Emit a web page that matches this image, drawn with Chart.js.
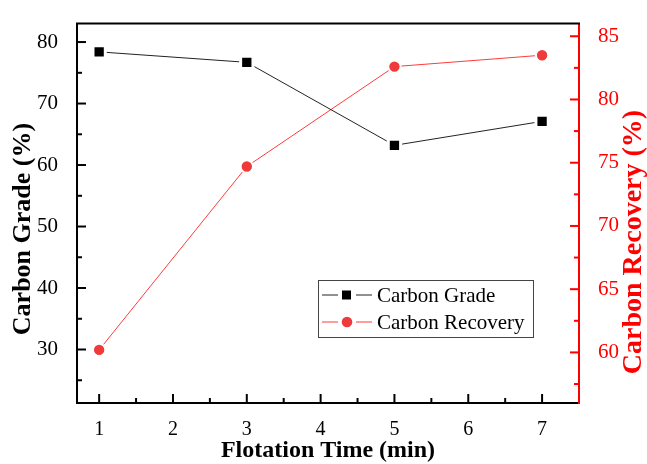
<!DOCTYPE html>
<html>
<head>
<meta charset="utf-8">
<script src="https://cdn.jsdelivr.net/npm/chart.js@4"></script>
<style>
  html, body { margin: 0; padding: 0; background: #ffffff; }
  canvas { display: block; }
</style>
</head>
<body>
<canvas id="c" width="647" height="464" style="width:647px;height:464px"></canvas>
<script>
// ---- data ----
const flotationTimes = [1, 3, 5, 7];
const carbonGrade = [78.4, 76.7, 63.2, 67.1];
const carbonRecovery = [60.2, 74.7, 82.6, 83.5];

// ---- tick values ----
const xMajorTicks = [1, 2, 3, 4, 5, 6, 7];
const xMinorTicks = [1.5, 2.5, 3.5, 4.5, 5.5, 6.5];
const gradeMajorTicks = [30, 40, 50, 60, 70, 80];
const gradeMinorTicks = [25, 35, 45, 55, 65, 75];
const recoveryMajorTicks = [60, 65, 70, 75, 80, 85];
const recoveryMinorTicks = [57.5, 62.5, 67.5, 72.5, 77.5, 82.5];

// ---- texts ----
const xTitle = 'Flotation Time (min)';
const gradeTitle = 'Carbon Grade (%)';
const recoveryTitle = 'Carbon Recovery (%)';
const seriesLabels = ['Carbon Grade', 'Carbon Recovery'];

const SERIF = '"Liberation Serif", "Times New Roman", serif';
const RED = '#ff0000';

const framePlugin = {
  id: 'frame',
  beforeDatasetsDraw(chart) {
    const { ctx, chartArea: a, scales } = chart;
    ctx.save();
    // top frame line
    ctx.strokeStyle = '#000';
    ctx.lineWidth = 2;
    ctx.beginPath();
    ctx.moveTo(a.left - 1, a.top);
    ctx.lineTo(a.right + 1, a.top);
    ctx.stroke();
    // inward ticks
    const drawTicks = (scale, vals, len, color, side) => {
      ctx.strokeStyle = color;
      ctx.lineWidth = 2;
      vals.forEach(v => {
        const p = scale.getPixelForValue(v);
        ctx.beginPath();
        if (side === 'bottom') { ctx.moveTo(p, a.bottom); ctx.lineTo(p, a.bottom - len); }
        else if (side === 'left') { ctx.moveTo(a.left, p); ctx.lineTo(a.left + len, p); }
        else { ctx.moveTo(a.right, p); ctx.lineTo(a.right - len, p); }
        ctx.stroke();
      });
    };
    drawTicks(scales.x, xMajorTicks, 9, '#000', 'bottom');
    drawTicks(scales.x, xMinorTicks, 5, '#000', 'bottom');
    drawTicks(scales.y, gradeMajorTicks, 9, '#000', 'left');
    drawTicks(scales.y, gradeMinorTicks, 5, '#000', 'left');
    drawTicks(scales.y1, recoveryMajorTicks, 9, RED, 'right');
    drawTicks(scales.y1, recoveryMinorTicks, 5, RED, 'right');
    ctx.restore();
  },
  afterDraw(chart) {
    const { ctx, chartArea: a } = chart;
    ctx.save();
    // axis titles
    ctx.textAlign = 'center';
    ctx.textBaseline = 'middle';
    ctx.fillStyle = '#000';
    ctx.font = 'bold 24px ' + SERIF;
    ctx.fillText(xTitle, (a.left + a.right) / 2, 451);
    ctx.save();
    ctx.translate(23, 229);
    ctx.rotate(-Math.PI / 2);
    ctx.font = 'bold 26px ' + SERIF;
    ctx.fillText(gradeTitle, 0, 0);
    ctx.restore();
    ctx.save();
    ctx.translate(634, 242);
    ctx.rotate(-Math.PI / 2);
    ctx.font = 'bold 28px ' + SERIF;
    ctx.fillStyle = RED;
    ctx.fillText(recoveryTitle, 0, 0);
    ctx.restore();

    // legend box
    const bx = 318, by = 280, bw = 215, bh = 57;
    ctx.strokeStyle = '#444';
    ctx.lineWidth = 1;
    ctx.strokeRect(bx + 0.5, by + 0.5, bw, bh);
    const rows = [295, 322];
    chart.data.datasets.forEach((ds, i) => {
      const y = rows[i];
      ctx.strokeStyle = ds.borderColor;
      ctx.lineWidth = 1;
      ctx.beginPath();
      ctx.moveTo(322, y); ctx.lineTo(338, y);
      ctx.moveTo(356, y); ctx.lineTo(372, y);
      ctx.stroke();
      ctx.fillStyle = ds.pointBackgroundColor;
      if (ds.pointStyle === 'rect') {
        ctx.fillRect(342, y - 4.5, 9, 9);
      } else {
        ctx.beginPath();
        ctx.arc(347, y, 5.3, 0, Math.PI * 2);
        ctx.fill();
      }
      ctx.fillStyle = '#000';
      ctx.textAlign = 'left';
      ctx.font = '21px ' + SERIF;
      ctx.fillText(ds.label, 377, y + 1);
    });
    ctx.restore();
  }
};

const toPoints = (xs, ys) => xs.map((x, i) => ({ x: x, y: ys[i] }));

new Chart(document.getElementById('c'), {
  type: 'line',
  data: {
    datasets: [
      {
        label: seriesLabels[0],
        data: toPoints(flotationTimes, carbonGrade),
        yAxisID: 'y',
        borderColor: '#222222',
        borderWidth: 1,
        pointStyle: 'rect',
        pointRadius: 8.7,
        pointBackgroundColor: '#000000',
        pointBorderColor: '#ffffff',
        pointBorderWidth: 3,
        tension: 0
      },
      {
        label: seriesLabels[1],
        data: toPoints(flotationTimes, carbonRecovery),
        yAxisID: 'y1',
        borderColor: '#ff3b3b',
        borderWidth: 1,
        pointStyle: 'circle',
        pointRadius: 6.2,
        pointBackgroundColor: '#ee3a3a',
        pointBorderColor: '#ffffff',
        pointBorderWidth: 2,
        tension: 0
      }
    ]
  },
  options: {
    responsive: false,
    animation: false,
    layout: { padding: { top: 11, left: 0, right: 0, bottom: 0 } },
    plugins: { legend: { display: false }, tooltip: { enabled: false } },
    scales: {
      x: {
        type: 'linear',
        position: 'bottom',
        min: 0.7,
        max: 7.5,
        afterBuildTicks: s => { s.ticks = xMajorTicks.map(v => ({ value: v })); },
        afterFit: s => { s.height = 61; },
        grid: { display: false },
        border: { display: true, color: '#000', width: 2 },
        ticks: { color: '#000', font: { family: SERIF, size: 20 }, padding: 7, maxRotation: 0, autoSkip: false }
      },
      y: {
        type: 'linear',
        position: 'left',
        min: 21.3,
        max: 83,
        afterBuildTicks: s => { s.ticks = gradeMajorTicks.map(v => ({ value: v })); },
        afterFit: s => { s.width = 77; },
        grid: { display: false },
        border: { display: true, color: '#000', width: 2 },
        ticks: { color: '#000', font: { family: SERIF, size: 21 }, padding: 11, autoSkip: false }
      },
      y1: {
        type: 'linear',
        position: 'right',
        min: 56,
        max: 86,
        afterBuildTicks: s => { s.ticks = recoveryMajorTicks.map(v => ({ value: v })); },
        afterFit: s => { s.width = 68; },
        grid: { display: false },
        border: { display: true, color: RED, width: 2 },
        ticks: { color: RED, font: { family: SERIF, size: 21 }, padding: 11, autoSkip: false }
      }
    }
  },
  plugins: [framePlugin]
});
</script>
</body>
</html>
